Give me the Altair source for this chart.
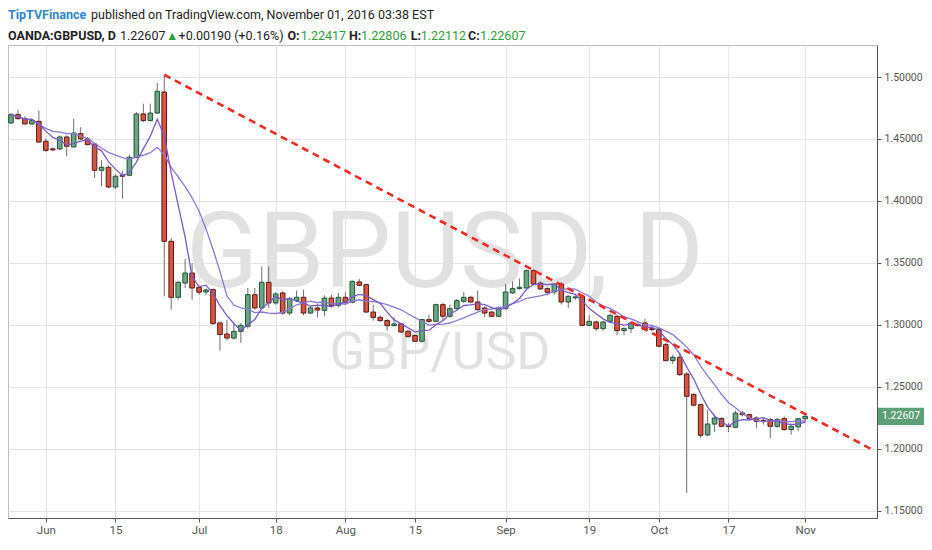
import altair as alt
import pandas as pd

# ---------------- data ----------------
bar_index = list(range(-5, 110))  # 0 = 1 Jun 2016, trading days only

opens = [1.4629, 1.4696, 1.4664, 1.4621, 1.4642,
         1.4481, 1.4420, 1.4419, 1.4516, 1.4435, 1.4543, 1.4500, 1.4459, 1.4247, 1.4271,
         1.4112, 1.4207, 1.4207, 1.4352, 1.4702, 1.4648, 1.4709, 1.4879, 1.3674, 1.3222,
         1.3337, 1.3418, 1.3303, 1.3265, 1.3284, 1.3015, 1.2926, 1.2893, 1.2947, 1.2988,
         1.3243, 1.3136, 1.3343, 1.3176, 1.3257, 1.3095, 1.3195, 1.3222, 1.3095, 1.3136,
         1.3117, 1.3216, 1.3157, 1.3222, 1.3182, 1.3346, 1.3324, 1.3103, 1.3060, 1.3034,
         1.2993, 1.3007, 1.2948, 1.2913, 1.2867, 1.3042, 1.3028, 1.3163, 1.3069, 1.3130,
         1.3190, 1.3222, 1.3184, 1.3136, 1.3103, 1.3069, 1.3130, 1.3257, 1.3292, 1.3297,
         1.3437, 1.3337, 1.3292, 1.3265, 1.3329, 1.3184, 1.3218, 1.3230, 1.2996, 1.3023,
         1.2969, 1.3028, 1.3069, 1.2953, 1.2969, 1.3002, 1.3015, 1.2968, 1.2966, 1.2840,
         1.2711, 1.2738, 1.2603, 1.2437, 1.2356, 1.2111, 1.2199, 1.2243, 1.2184, 1.2173,
         1.2288, 1.2275, 1.2248, 1.2229, 1.2235, 1.2181, 1.2243, 1.2154, 1.2176, 1.22417]
highs = [1.4710, 1.4736, 1.4683, 1.4661, 1.4731,
         1.4503, 1.4430, 1.4529, 1.4529, 1.4661, 1.4594, 1.4516, 1.4467, 1.4328, 1.4287,
         1.4212, 1.4244, 1.4373, 1.4718, 1.4785, 1.4785, 1.4952, 1.5018, 1.3700, 1.3351,
         1.3531, 1.3499, 1.3311, 1.3292, 1.3292, 1.3028, 1.3041, 1.3015, 1.3015, 1.3297,
         1.3297, 1.3472, 1.3472, 1.3262, 1.3270, 1.3222, 1.3276, 1.3284, 1.3149, 1.3168,
         1.3238, 1.3243, 1.3257, 1.3262, 1.3357, 1.3370, 1.3332, 1.3163, 1.3077, 1.3047,
         1.3061, 1.3015, 1.2961, 1.2921, 1.3047, 1.3082, 1.3171, 1.3176, 1.3163, 1.3208,
         1.3265, 1.3235, 1.3276, 1.3149, 1.3109, 1.3149, 1.3329, 1.3351, 1.3373, 1.3446,
         1.3450, 1.3351, 1.3303, 1.3337, 1.3345, 1.3238, 1.3240, 1.3243, 1.3077, 1.3034,
         1.3034, 1.3087, 1.3082, 1.2980, 1.3023, 1.3030, 1.3049, 1.3001, 1.2974, 1.2853,
         1.2759, 1.2772, 1.2619, 1.2450, 1.2361, 1.2315, 1.2261, 1.2253, 1.2207, 1.2307,
         1.2307, 1.2283, 1.2261, 1.2248, 1.2248, 1.2248, 1.2261, 1.2199, 1.2248, 1.22806]
lows = [1.4620, 1.4655, 1.4616, 1.4616, 1.4467,
        1.4395, 1.4400, 1.4411, 1.4360, 1.4433, 1.4492, 1.4449, 1.4185, 1.4118, 1.4104,
        1.4096, 1.4018, 1.4199, 1.4346, 1.4637, 1.4642, 1.4702, 1.3230, 1.3122, 1.3203,
        1.3297, 1.3203, 1.3243, 1.3243, 1.3001, 1.2791, 1.2872, 1.2880, 1.2853, 1.2969,
        1.3122, 1.3127, 1.3136, 1.3162, 1.3081, 1.3077, 1.3184, 1.3077, 1.3087, 1.3061,
        1.3069, 1.3149, 1.3141, 1.3168, 1.3174, 1.3311, 1.3095, 1.3034, 1.3023, 1.2953,
        1.2988, 1.2934, 1.2899, 1.2861, 1.2861, 1.3015, 1.3020, 1.3042, 1.3055, 1.3122,
        1.3176, 1.3176, 1.3114, 1.3061, 1.3061, 1.3061, 1.3122, 1.3249, 1.3284, 1.3292,
        1.3324, 1.3284, 1.3238, 1.3243, 1.3163, 1.3136, 1.3200, 1.2988, 1.2988, 1.2948,
        1.2953, 1.3023, 1.2915, 1.2915, 1.2934, 1.2985, 1.2953, 1.2948, 1.2818, 1.2705,
        1.2684, 1.2587, 1.1643, 1.2342, 1.2086, 1.2100, 1.2135, 1.2173, 1.2135, 1.2167,
        1.2261, 1.2227, 1.2167, 1.2194, 1.2086, 1.2167, 1.2146, 1.2113, 1.2140, 1.22112]
closes = [1.4696, 1.4664, 1.4621, 1.4648, 1.4475,
          1.4408, 1.4412, 1.4516, 1.4441, 1.4548, 1.4500, 1.4454, 1.4247, 1.4271, 1.4112,
          1.4199, 1.4199, 1.4352, 1.4702, 1.4648, 1.4709, 1.4885, 1.3674, 1.3222, 1.3343,
          1.3418, 1.3297, 1.3263, 1.3281, 1.3009, 1.2921, 1.2893, 1.2947, 1.2996, 1.3243,
          1.3136, 1.3343, 1.3176, 1.3249, 1.3095, 1.3211, 1.3222, 1.3095, 1.3136, 1.3119,
          1.3216, 1.3157, 1.3222, 1.3182, 1.3351, 1.3319, 1.3103, 1.3060, 1.3034, 1.2993,
          1.3007, 1.2942, 1.2904, 1.2867, 1.3042, 1.3028, 1.3163, 1.3069, 1.3130, 1.3195,
          1.3222, 1.3184, 1.3122, 1.3095, 1.3069, 1.3136, 1.3265, 1.3292, 1.3303, 1.3437,
          1.3329, 1.3289, 1.3262, 1.3329, 1.3184, 1.3230, 1.3225, 1.2996, 1.3028, 1.2969,
          1.3023, 1.3077, 1.2953, 1.2969, 1.3015, 1.2995, 1.2961, 1.2963, 1.2827, 1.2711,
          1.2738, 1.2598, 1.2423, 1.2351, 1.2108, 1.2199, 1.2248, 1.2181, 1.2178, 1.2288,
          1.2275, 1.2243, 1.2221, 1.2225, 1.2181, 1.2235, 1.2154, 1.2181, 1.2242, 1.22607]

tick_index = [0, 10, 22, 33, 43, 53, 66, 78, 88, 98, 109]
tick_labels = ["Jun", "15", "Jul", "18", "Aug", "15", "Sep", "19", "Oct", "17", "Nov"]
price_ticks = [1.15, 1.20, 1.25, 1.30, 1.35, 1.40, 1.45, 1.50]

trend_index = [17, 118.6]
trend_price = [1.5018, 1.1994]

last_price_label = "1.22607"

header_line1 = [("TipTVFinance", "#2f86c8", "bold"),
                ("published on TradingView.com, November 01, 2016 03:38 EST", "#222222", "normal")]
header_line2 = [("OANDA:GBPUSD, D", "#222222", "bold"),
                ("1.22607", "#222222", "normal"),
                ("\u25B2", "#2e9d3a", "normal"),
                ("+0.00190 (+0.16%)", "#222222", "normal"),
                ("O:", "#222222", "bold"), ("1.22417", "#2e9d3a", "normal"),
                ("H:", "#222222", "bold"), ("1.22806", "#2e9d3a", "normal"),
                ("L:", "#222222", "bold"), ("1.22112", "#2e9d3a", "normal"),
                ("C:", "#222222", "bold"), ("1.22607", "#2e9d3a", "normal")]
# page x where each header piece starts
header_x1 = [8, 91]
header_x2 = [8, 120, 166, 178.6, 287.5, 300.7, 349, 361, 410.7, 420.7, 468, 480]

# ---------------- styling ----------------
FONT = "Roboto"
UP_FILL, UP_LINE = "#6ba583", "#225437"
DN_FILL, DN_LINE = "#d75442", "#5b1a13"
WICK = "#6f6f6f"
GRID = "#e4e4e4"
AXIS_C = "#555555"
PLOT_TOP = 45  # page y of the plot's top edge (chart origin at page 8,8)

df = pd.DataFrame({"i": bar_index, "o": opens, "h": highs, "l": lows, "c": closes})
trend_df = pd.DataFrame({"i": trend_index, "p": trend_price})

label_expr = "".join(f"datum.value == {v} ? '{t}' : " for v, t in zip(tick_index, tick_labels)) + "''"

xscale = alt.Scale(domain=[-4.71, 118.6], nice=False, zero=False)
yscale = alt.Scale(domain=[1.14407, 1.52583], nice=False, zero=False)

xaxis = alt.Axis(values=tick_index, labelExpr=label_expr, title=None, grid=True,
                 gridColor=GRID, domainColor=AXIS_C, tickColor=AXIS_C, tickSize=4,
                 labelFont=FONT, labelFontSize=11.5, labelColor=AXIS_C, labelPadding=2,
                 labelFlush=False)
yaxis = alt.Axis(orient="right", values=price_ticks, format=".5f", title=None, grid=True,
                 gridColor=GRID, domainColor=AXIS_C, tickColor=AXIS_C, tickSize=4,
                 labelFont=FONT, labelFontSize=10.5, labelColor=AXIS_C, labelPadding=3)

X = alt.X("i:Q", scale=xscale, axis=xaxis)

one = pd.DataFrame({"k": [0]})

# watermark
wm1 = alt.Chart(one).mark_text(text="GBPUSD, D", font=FONT, fontSize=106, color="#e1e1e1",
                               align="center", baseline="alphabetic").encode(
    x=alt.value(437), y=alt.value(287 - PLOT_TOP))
wm2 = alt.Chart(one).mark_text(text="GBP/USD", font=FONT, fontSize=52, color="#e1e1e1",
                               align="center", baseline="alphabetic").encode(
    x=alt.value(432), y=alt.value(369 - PLOT_TOP))

base = alt.Chart(df)

wicks = base.mark_rule(color=WICK, strokeWidth=1, clip=True).encode(
    x=X, y=alt.Y("l:Q", scale=yscale, axis=yaxis), y2="h:Q")

bodies = base.mark_bar(size=4.6, strokeWidth=1, clip=True).encode(
    x=X, y=alt.Y("o:Q", scale=yscale, axis=yaxis), y2="c:Q",
    fill=alt.condition("datum.c >= datum.o", alt.value(UP_FILL), alt.value(DN_FILL)),
    stroke=alt.condition("datum.c >= datum.o", alt.value(UP_LINE), alt.value(DN_LINE)))

sma5 = base.transform_window(m="mean(c)", frame=[-4, 0], sort=[alt.SortField("i")]).mark_line(
    color="#7a5ac4", strokeWidth=1.3, clip=True).encode(
    x=X, y=alt.Y("m:Q", scale=yscale, axis=yaxis))
sma10 = base.transform_window(m="mean(c)", frame=[-9, 0], sort=[alt.SortField("i")]).mark_line(
    color="#8b78d4", strokeWidth=1.3, clip=True).encode(
    x=X, y=alt.Y("m:Q", scale=yscale, axis=yaxis))

trend = alt.Chart(trend_df).mark_line(color="#ee2a24", strokeWidth=2.6, strokeDash=[7, 5],
                                      clip=True).encode(
    x=X, y=alt.Y("p:Q", scale=yscale, axis=yaxis))

last = base.transform_filter("datum.i == 109").transform_calculate(
    lo="datum.c - 0.0069", hi="datum.c + 0.0069")
tag_box = last.mark_rect(color="#5e9f78").encode(
    x=alt.value(870), x2=alt.value(916),
    y=alt.Y("lo:Q", scale=yscale, axis=yaxis), y2="hi:Q")
tag_txt = last.mark_text(text=last_price_label, font=FONT, fontSize=10.5, color="white",
                         align="center", baseline="middle").encode(
    x=alt.value(893), y=alt.Y("c:Q", scale=yscale, axis=yaxis))

header = []
for (t, col, w), xx in zip(header_line1, header_x1):
    header.append(alt.Chart(one).mark_text(text=t, font=FONT, fontSize=12.5, color=col,
                                           fontWeight=w, align="left", baseline="middle")
                  .encode(x=alt.value(xx - 8), y=alt.value(15 - PLOT_TOP)))
for (t, col, w), xx in zip(header_line2, header_x2):
    header.append(alt.Chart(one).mark_text(text=t, font=FONT, fontSize=12.5, color=col,
                                           fontWeight=w, align="left", baseline="middle")
                  .encode(x=alt.value(xx - 8), y=alt.value(36 - PLOT_TOP)))

chart = alt.layer(wm1, wm2, wicks, bodies, sma10, sma5, trend, tag_box, tag_txt, *header).properties(
    width=869, height=473,
    padding={"left": 0, "top": PLOT_TOP - 8, "right": 47, "bottom": 18},
    autosize=alt.AutoSizeParams(type="none"),
    background="white",
).configure_view(stroke="#bdbdbd", strokeWidth=1)

chart.save("out.html", embed_options={"renderer": "svg", "actions": False})
